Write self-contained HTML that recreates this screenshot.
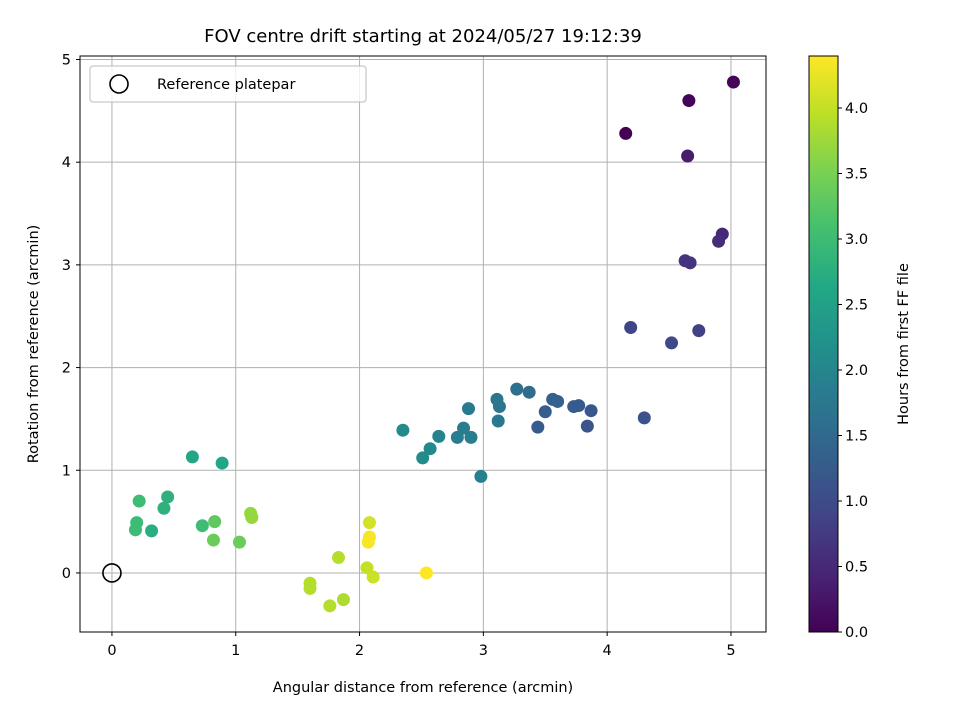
<!DOCTYPE html>
<html><head><meta charset="utf-8"><style>
html,body{margin:0;padding:0;background:#fff;}
svg text{font-family:"DejaVu Sans","Liberation Sans",sans-serif;}
</style></head><body>
<svg id="chart" width="960" height="720" xmlns="http://www.w3.org/2000/svg">
<rect width="960" height="720" fill="#fff"/>
<text x="423" y="42" font-size="18" text-anchor="middle">FOV centre drift starting at 2024/05/27 19:12:39</text>
<g id="grid"></g>
<g id="points"></g>
<rect x="80" y="56" width="686" height="576" fill="none" stroke="#000" stroke-width="1"/>
<g id="ticks"></g>
<text x="423" y="692" font-size="14.5" text-anchor="middle">Angular distance from reference (arcmin)</text>
<text transform="translate(38,344) rotate(-90)" font-size="14.5" text-anchor="middle">Rotation from reference (arcmin)</text>
<g>
<rect x="90" y="66" width="276" height="36" rx="3" fill="#fff" fill-opacity="0.8" stroke="#bbb"/>
<circle cx="119" cy="84" r="9" fill="none" stroke="#000" stroke-width="1.6"/>
<text x="157" y="89" font-size="14.5">Reference platepar</text>
</g>
<defs><linearGradient id="vir" x1="0" y1="1" x2="0" y2="0">
<stop offset="0" stop-color="#440154"/><stop offset="0.1" stop-color="#482475"/><stop offset="0.2" stop-color="#414487"/><stop offset="0.3" stop-color="#355f8d"/><stop offset="0.4" stop-color="#2a788e"/><stop offset="0.5" stop-color="#21918c"/><stop offset="0.6" stop-color="#22a884"/><stop offset="0.7" stop-color="#44bf70"/><stop offset="0.8" stop-color="#7ad151"/><stop offset="0.9" stop-color="#bddf26"/><stop offset="1" stop-color="#fde725"/>
</linearGradient></defs>
<rect x="809" y="56" width="29" height="576" fill="url(#vir)" stroke="#000" stroke-width="1"/>
<g id="cbticks"></g>
<text transform="translate(908,344) rotate(-90)" font-size="14.5" text-anchor="middle">Hours from first FF file</text>
</svg>
<script>
const xData=[2.35,2.51,2.57,2.64,2.88,2.79,2.84,2.90,2.98,3.11,3.13,3.12,3.27,3.37,3.50,3.56,3.60,3.44,3.73,3.77,3.87,3.84,4.30,
4.15,4.66,5.02,4.65,4.93,4.90,4.63,4.67,4.19,4.74,4.52,
0.65,0.89,0.22,0.45,0.42,0.20,0.19,0.32,0.73,0.83,0.82,1.03,1.12,1.13,1.83,1.60,1.60,1.76,1.87,2.08,2.08,2.07,2.06,2.11,2.54];
const yData=[1.39,1.12,1.21,1.33,1.60,1.32,1.41,1.32,0.94,1.69,1.62,1.48,1.79,1.76,1.57,1.69,1.67,1.42,1.62,1.63,1.58,1.43,1.51,
4.28,4.60,4.78,4.06,3.30,3.23,3.04,3.02,2.39,2.36,2.24,
1.13,1.07,0.70,0.74,0.63,0.49,0.42,0.41,0.46,0.50,0.32,0.30,0.58,0.54,0.15,-0.10,-0.15,-0.32,-0.26,0.49,0.35,0.30,0.05,-0.04,0.00];
const hours=[2.1,2.1,2.05,1.95,1.8,1.85,1.85,1.85,1.9,1.7,1.7,1.75,1.6,1.55,1.3,1.35,1.35,1.25,1.25,1.25,1.2,1.15,1.1,
0.0,0.05,0.05,0.35,0.5,0.55,0.65,0.65,0.9,0.85,0.95,
2.6,2.6,3.0,2.8,2.8,3.0,3.0,2.75,3.0,3.3,3.4,3.4,3.7,3.7,3.9,3.9,3.9,3.9,3.85,4.1,4.35,4.35,4.0,4.05,4.4];
const xTicks=[0,1,2,3,4,5];
const yTicks=[0,1,2,3,4,5];
const cbTicks=[0.0,0.5,1.0,1.5,2.0,2.5,3.0,3.5,4.0];
const X0=-0.258,X1=5.283,Y0=-0.575,Y1=5.034,HMAX=4.397;
const sx=v=>80+(v-X0)/(X1-X0)*686;
const sy=v=>632-(v-Y0)/(Y1-Y0)*576;
const sc=v=>632-v/HMAX*576;
const NS="http://www.w3.org/2000/svg";
const stops=[[68,1,84],[72,36,117],[65,68,135],[53,95,141],[42,120,142],[33,145,140],[34,168,132],[68,191,112],[122,209,81],[189,223,38],[253,231,37]];
function vir(t){t=Math.max(0,Math.min(1,t))*10;const i=Math.min(9,Math.floor(t)),f=t-i;const a=stops[i],b=stops[i+1];
return `rgb(${a.map((c,k)=>Math.round(c+(b[k]-c)*f)).join(',')})`;}
function mk(tag,at,parent){const e=document.createElementNS(NS,tag);for(const k in at)e.setAttribute(k,at[k]);parent.appendChild(e);return e;}
const grid=document.getElementById('grid'),ticks=document.getElementById('ticks');
xTicks.forEach(v=>{
 const l=mk('line',{x1:sx(v),x2:sx(v),y1:56,y2:632,stroke:'#b0b0b0','stroke-width':1},grid);
 
 
 mk('line',{x1:sx(v),x2:sx(v),y1:632,y2:636,stroke:'#000'},ticks);
 const t=mk('text',{x:sx(v),y:655,'font-size':14.5,'text-anchor':'middle'},ticks);t.textContent=v;
 
 
});
yTicks.forEach(v=>{
 const l=mk('line',{x1:80,x2:766,y1:sy(v),y2:sy(v),stroke:'#b0b0b0','stroke-width':1},grid);
 
 
 mk('line',{x1:76,x2:80,y1:sy(v),y2:sy(v),stroke:'#000'},ticks);
 const t=mk('text',{x:71,y:sy(v)+5,'font-size':14.5,'text-anchor':'end'},ticks);t.textContent=v;
 
 
});
const pts=document.getElementById('points');
xData.forEach((x,i)=>{
 const c=mk('circle',{cx:sx(x),cy:sy(yData[i]),r:6.5,fill:vir(hours[i]/HMAX)},pts);
 
 
});
const ref=mk('circle',{cx:sx(0),cy:sy(0),r:9,fill:'none',stroke:'#000','stroke-width':1.6},pts);


const cbt=document.getElementById('cbticks');
cbTicks.forEach(v=>{
 mk('line',{x1:838,x2:842,y1:sc(v),y2:sc(v),stroke:'#000'},cbt);
 const t=mk('text',{x:845,y:sc(v)+5,'font-size':14.5},cbt);t.textContent=v.toFixed(1);
 
 
});
</script>
</body></html>
